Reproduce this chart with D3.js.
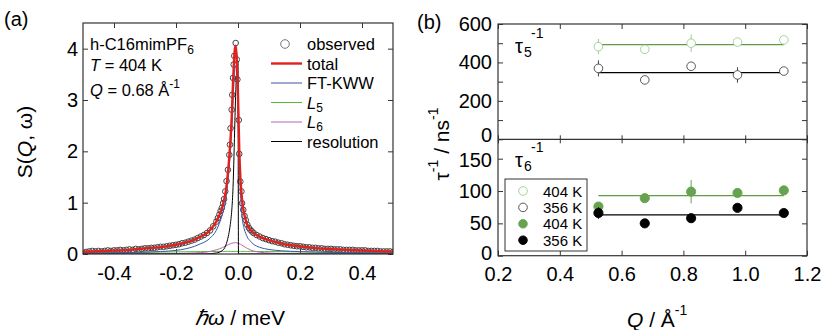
<!DOCTYPE html>
<html><head><meta charset="utf-8">
<script src="https://cdn.jsdelivr.net/npm/d3@7"></script>
<style>
html,body{margin:0;padding:0;background:#fff;}
svg{display:block;font-family:"Liberation Sans",Arial,Helvetica,sans-serif;}
</style></head><body>
<svg id="c" width="822" height="330"></svg>
<script>
// ---------- Panel (a) data ----------
const specE = [-0.5,-0.45,-0.4,-0.35,-0.3,-0.25,-0.2,-0.17,-0.14,-0.12,-0.1,-0.085,-0.07,-0.06,-0.05,-0.045,-0.04,-0.035,-0.03,-0.025,-0.02,-0.016,-0.013,-0.01,-0.007,-0.004,0,0.004,0.008,0.012,0.016,0.02,0.025,0.03,0.04,0.05,0.06,0.07,0.085,0.1,0.12,0.14,0.17,0.2,0.25,0.3,0.35,0.4,0.45,0.5];
const totalFit = [0.045,0.055,0.065,0.08,0.11,0.135,0.18,0.22,0.28,0.34,0.41,0.50,0.63,0.76,0.93,1.05,1.2,1.43,1.75,2.15,2.7,3.35,3.75,4.0,4.06,3.8,3.1,2.05,1.45,1.13,0.92,0.78,0.66,0.57,0.47,0.41,0.37,0.335,0.30,0.27,0.235,0.205,0.17,0.145,0.115,0.095,0.08,0.068,0.056,0.047];
const kwwFit = [0.02,0.022,0.025,0.03,0.036,0.048,0.07,0.1,0.15,0.2,0.26,0.34,0.46,0.6,0.78,0.9,1.05,1.27,1.57,1.97,2.47,2.98,3.38,3.63,3.66,3.42,2.8,1.9,1.2,0.8,0.6,0.49,0.4,0.33,0.25,0.19,0.155,0.13,0.105,0.088,0.073,0.063,0.053,0.046,0.038,0.032,0.028,0.025,0.022,0.02];
const l5Fit = [0.022,0.025,0.028,0.031,0.034,0.038,0.042,0.044,0.046,0.047,0.048,0.049,0.049,0.05,0.05,0.05,0.05,0.05,0.05,0.05,0.05,0.05,0.05,0.05,0.05,0.05,0.05,0.05,0.05,0.05,0.05,0.05,0.05,0.05,0.05,0.05,0.049,0.049,0.049,0.048,0.047,0.046,0.044,0.042,0.038,0.034,0.031,0.028,0.025,0.022];
const l6Fit = [0.002,0.002,0.003,0.003,0.004,0.006,0.009,0.013,0.02,0.027,0.04,0.058,0.08,0.1,0.125,0.14,0.155,0.17,0.185,0.198,0.21,0.215,0.218,0.22,0.22,0.218,0.21,0.2,0.19,0.175,0.16,0.145,0.125,0.11,0.08,0.058,0.045,0.035,0.025,0.018,0.013,0.01,0.007,0.005,0.004,0.003,0.002,0.002,0.002,0.001];
const resE = [-0.5,-0.15,-0.1,-0.085,-0.07,-0.06,-0.05,-0.045,-0.04,-0.035,-0.03,-0.025,-0.02,-0.016,-0.013,-0.01,-0.007,-0.004,0.0,0.0015,0.01,0.5];
const resFit = [0,0,0.003,0.008,0.02,0.035,0.07,0.1,0.16,0.25,0.38,0.57,0.86,1.3,1.9,2.6,3.2,3.55,3.75,0,0,0];
const obsE = [-0.50,-0.49,-0.48,-0.47,-0.46,-0.45,-0.44,-0.43,-0.42,-0.41,-0.40,-0.39,-0.38,-0.37,-0.36,-0.35,-0.34,-0.33,-0.32,-0.31,-0.30,-0.29,-0.28,-0.27,-0.26,-0.25,-0.24,-0.23,-0.22,-0.21,-0.20,-0.19,-0.18,-0.17,-0.16,-0.15,-0.14,-0.13,-0.12,-0.11,-0.10,-0.09,-0.08,-0.07,
  -0.065,-0.06,-0.056,-0.052,-0.048,-0.045,-0.041,-0.037,-0.0325,-0.028,-0.026,-0.024,-0.0205,-0.0185,-0.016,-0.014,-0.012,-0.0075,-0.004,-0.002,0.0025,0.004,0.0075,0.011,0.013,0.017,0.021,0.025,0.03,0.035,0.04,0.045,0.05,
  0.06,0.07,0.08,0.09,0.10,0.11,0.12,0.13,0.14,0.15,0.16,0.17,0.18,0.19,0.20,0.21,0.22,0.23,0.24,0.25,0.26,0.27,0.28,0.29,0.30,0.31,0.32,0.33,0.34,0.35,0.36,0.37,0.38,0.39,0.40,0.41,0.42,0.43,0.44,0.45,0.46,0.47,0.48,0.49,0.50];
const obsS = [0.02,0.04,0.05,0.06,0.05,0.06,0.05,0.06,0.07,0.06,0.07,0.07,0.08,0.07,0.08,0.09,0.08,0.10,0.09,0.10,0.11,0.11,0.12,0.12,0.13,0.14,0.14,0.15,0.16,0.17,0.18,0.19,0.21,0.22,0.24,0.26,0.28,0.31,0.34,0.37,0.41,0.46,0.54,0.63,
  0.70,0.77,0.84,0.90,0.99,1.07,1.22,1.42,1.64,1.93,2.13,2.45,2.81,3.10,3.43,3.69,3.86,4.11,3.79,3.40,2.61,1.95,1.41,1.22,0.99,0.86,0.74,0.66,0.57,0.51,0.47,0.44,0.41,
  0.37,0.34,0.31,0.29,0.27,0.25,0.24,0.22,0.21,0.19,0.18,0.17,0.16,0.15,0.15,0.14,0.13,0.13,0.12,0.12,0.11,0.11,0.10,0.10,0.10,0.09,0.09,0.09,0.08,0.08,0.08,0.08,0.07,0.07,0.07,0.07,0.06,0.06,0.06,0.06,0.05,0.05,0.05,0.05,0.04];
const aXTicks = [-0.4,-0.2,0,0.2,0.4];
const aYTicks = [0,1,2,3,4];

// ---------- Panel (b) data ----------
const qVals = [0.525,0.675,0.825,0.975,1.125];
const tau5_404 = [482,468,500,506,517];
const tau5_404err = [40,0,45,0,0];
const tau5_356 = [369,309,380,335,355];
const tau5_356err = [42,0,0,40,0];
const tau6_404 = [76,89,99,97,101];
const tau6_404err = [0,0,18,0,0];
const tau6_356 = [66,50,58,74,66];
const tau6_356err = [9,0,0,0,0];
const fit5 = {k404: 493, k356: 347};
const fit6 = {k404: 93, k356: 63};
const bXTicks = [0.2,0.4,0.6,0.8,1.0,1.2];
const b5Ticks = [0,100,200,300,400,500,600];
const b6Ticks = [0,50,100,150];
const legendB = ["404 K","356 K","404 K","356 K"];

// ---------- drawing ----------
const FONT = '"Liberation Sans",Arial,Helvetica,sans-serif';
const svg = d3.select("#c");
const GREEN_L = "#9ccd8c", GREEN = "#5e9c45", GREEN_F = "#66a34f";

function styleAxis(g, fs){
  g.select(".domain").remove();
  g.attr("font-size", null).attr("font-family", null);
  g.selectAll("text").attr("font-size", fs).attr("font-family", FONT).attr("fill", "#000");
  g.selectAll(".tick line").attr("stroke", "#333").attr("stroke-width", 1);
}

// Panel (a)
const xa = d3.scaleLinear([-0.5,0.5],[83,393]);
const ya = d3.scaleLinear([0,4.5],[254,23]);
svg.append("defs").append("clipPath").attr("id","clipA").append("rect")
  .attr("x",83).attr("y",23).attr("width",310).attr("height",231);

const gA = svg.append("g");
gA.append("g").attr("transform","translate(0,254)")
  .call(d3.axisBottom(xa).tickValues(aXTicks).tickSize(-5).tickPadding(12).tickFormat(d=>d.toFixed(1)))
  .call(g=>styleAxis(g,20));
gA.append("g").attr("transform","translate(0,23)")
  .call(d3.axisTop(xa).tickValues(aXTicks).tickSize(-5).tickFormat(()=>""))
  .call(g=>styleAxis(g,20));
gA.append("g").attr("transform","translate(83,0)")
  .call(d3.axisLeft(ya).tickValues(aYTicks).tickSize(-5).tickPadding(5).tickFormat(d3.format("d")))
  .call(g=>styleAxis(g,20));
gA.append("g").attr("transform","translate(393,0)")
  .call(d3.axisRight(ya).tickValues(aYTicks).tickSize(-5).tickFormat(()=>""))
  .call(g=>styleAxis(g,20));

const plotA = gA.append("g").attr("clip-path","url(#clipA)");
plotA.selectAll("circle.obs").data(obsE.map((e,i)=>[e,obsS[i]])).join("circle")
  .attr("class","obs").attr("cx",d=>xa(d[0])).attr("cy",d=>ya(d[1])).attr("r",2.8)
  .attr("fill","none").attr("stroke","#444").attr("stroke-width",1);
const lineA = d3.line().x(d=>xa(d[0])).y(d=>ya(d[1])).curve(d3.curveMonotoneX);
const zip = (xs, ys) => xs.map((x,i)=>[x,ys[i]]);
plotA.append("path").attr("d",lineA(zip(specE,l5Fit))).attr("fill","none").attr("stroke","#5cb83c").attr("stroke-width",1);
plotA.append("path").attr("d",lineA(zip(specE,l6Fit))).attr("fill","none").attr("stroke","#b565b5").attr("stroke-width",1);
plotA.append("path").attr("d",lineA(zip(resE,resFit))).attr("fill","none").attr("stroke","#000").attr("stroke-width",1);
plotA.append("path").attr("d",lineA(zip(specE,kwwFit))).attr("fill","none").attr("stroke","#3a55a5").attr("stroke-width",1);
plotA.append("path").attr("d",lineA(zip(specE,totalFit))).attr("fill","none").attr("stroke","#e0221e").attr("stroke-width",2.4);

gA.append("rect").attr("x",83).attr("y",23).attr("width",310).attr("height",231)
  .attr("fill","none").attr("stroke","#333").attr("stroke-width",1.2);

// annotations (a)
const ann = gA.append("g").attr("font-size",16.5).attr("fill","#000");
let t = ann.append("text").attr("x",90).attr("y",50);
t.append("tspan").text("h-C16mimPF");
t.append("tspan").attr("font-size",12).attr("dy",4).text("6");
t = ann.append("text").attr("x",90).attr("y",71);
t.append("tspan").attr("font-style","italic").text("T");
t.append("tspan").text(" = 404 K");
t = ann.append("text").attr("x",90).attr("y",96);
t.append("tspan").attr("font-style","italic").text("Q");
t.append("tspan").text(" = 0.68 Å");
t.append("tspan").attr("font-size",12).attr("dy",-8).text("-1");

// legend (a)
const legA = [
  {label:"observed", type:"circle"},
  {label:"total", color:"#e0221e", w:2.4},
  {label:"FT-KWW", color:"#3a55a5", w:1},
  {label:"L", sub:"5", color:"#5cb83c", w:1},
  {label:"L", sub:"6", color:"#b565b5", w:1},
  {label:"resolution", color:"#000", w:1}
];
legA.forEach((d,i)=>{
  const yb = 50 + i*19.5;
  if(d.type==="circle"){
    gA.append("circle").attr("cx",285).attr("cy",yb-6).attr("r",4.3).attr("fill","none").attr("stroke","#666").attr("stroke-width",0.9);
  } else {
    gA.append("line").attr("x1",271).attr("x2",302).attr("y1",yb-6).attr("y2",yb-6).attr("stroke",d.color).attr("stroke-width",d.w);
  }
  const tt = gA.append("text").attr("x",307).attr("y",yb).attr("font-size",16.5);
  if(d.sub){
    tt.append("tspan").attr("font-style","italic").text(d.label);
    tt.append("tspan").attr("font-size",12).attr("dy",3).text(d.sub);
  } else tt.text(d.label);
});

// labels (a)
svg.append("text").attr("x",4).attr("y",26).attr("font-size",20).text("(a)");
t = svg.append("text").attr("transform","translate(32,142) rotate(-90)").attr("text-anchor","middle").attr("font-size",21);
t.append("tspan").text("S(");
t.append("tspan").attr("font-style","italic").text("Q");
t.append("tspan").text(", ω)");
t = svg.append("text").attr("x",240).attr("y",325).attr("text-anchor","middle").attr("font-size",21);
t.append("tspan").attr("font-style","italic").text("ℏω");
t.append("tspan").text(" / meV");

// Panel (b)
const xb = d3.scaleLinear([0.2,1.2],[498,807]);
const y5 = d3.scaleLinear([0,600],[139.3,24]);
const y6 = d3.scaleLinear([0,180],[255.7,139.3]);
const gB = svg.append("g");
gB.append("g").attr("transform","translate(0,255.7)")
  .call(d3.axisBottom(xb).tickValues(bXTicks).tickSize(-5).tickPadding(11).tickFormat(d=>d.toFixed(1)))
  .call(g=>styleAxis(g,20));
gB.append("g").attr("transform","translate(0,139.3)")
  .call(d3.axisBottom(xb).tickValues(bXTicks).tickSize(4).tickFormat(()=>""))
  .call(g=>styleAxis(g,20));
gB.append("g").attr("transform","translate(0,139.3)")
  .call(d3.axisTop(xb).tickValues(bXTicks).tickSize(4).tickFormat(()=>""))
  .call(g=>styleAxis(g,20));
gB.append("g").attr("transform","translate(0,24)")
  .call(d3.axisTop(xb).tickValues(bXTicks).tickSize(-5).tickFormat(()=>""))
  .call(g=>styleAxis(g,20));
gB.append("g").attr("transform","translate(498,0)")
  .call(d3.axisLeft(y5).tickValues(b5Ticks).tickSize(-5).tickPadding(6).tickFormat(d=>d%200===0?d:""))
  .call(g=>styleAxis(g,20))
  .call(g=>g.selectAll(".tick").filter(d=>d===0).select("text").attr("dy","0.1em"));
gB.append("g").attr("transform","translate(807,0)")
  .call(d3.axisRight(y5).tickValues(b5Ticks).tickSize(-5).tickFormat(()=>""))
  .call(g=>styleAxis(g,20));
gB.append("g").attr("transform","translate(498,0)")
  .call(d3.axisLeft(y6).tickValues(b6Ticks).tickSize(-5).tickPadding(6).tickFormat(d3.format("d")))
  .call(g=>styleAxis(g,20))
  .call(g=>g.selectAll(".tick").filter(d=>d===150).select("text").attr("dy","0.4em"))
  .call(g=>g.selectAll(".tick").filter(d=>d===0).select("text").attr("dy","0.2em"));
gB.append("g").attr("transform","translate(807,0)")
  .call(d3.axisRight(y6).tickValues(b6Ticks).tickSize(-5).tickFormat(()=>""))
  .call(g=>styleAxis(g,20));

function series(g, ys, vals, errs, fitLevel, lineColor, stroke, fill, r){
  const l = d3.line().x(d=>xb(d[0])).y(d=>ys(d[1]));
  g.append("path").attr("d", l([[qVals[0],fitLevel],[qVals[qVals.length-1],fitLevel]]))
    .attr("fill","none").attr("stroke",lineColor).attr("stroke-width",1.2);
  qVals.forEach((q,i)=>{
    if(errs[i]>0) g.append("line").attr("x1",xb(q)).attr("x2",xb(q))
      .attr("y1",ys(vals[i]-errs[i])).attr("y2",ys(vals[i]+errs[i]))
      .attr("stroke",stroke).attr("stroke-width",1);
  });
  g.selectAll(null).data(qVals.map((q,i)=>[q,vals[i]])).join("circle")
    .attr("cx",d=>xb(d[0])).attr("cy",d=>ys(d[1])).attr("r",r)
    .attr("fill",fill).attr("stroke",stroke).attr("stroke-width",0.9);
}
series(gB, y5, tau5_404, tau5_404err, fit5.k404, GREEN, GREEN_L, "#fff", 4.3);
series(gB, y5, tau5_356, tau5_356err, fit5.k356, "#000", "#444", "#fff", 4.3);
series(gB, y6, tau6_404, tau6_404err, fit6.k404, GREEN, GREEN_F, GREEN_F, 4.6);
series(gB, y6, tau6_356, tau6_356err, fit6.k356, "#000", "#000", "#000", 4.6);

gB.append("rect").attr("x",498).attr("y",24).attr("width",309).attr("height",231.7)
  .attr("fill","none").attr("stroke","#333").attr("stroke-width",1.2);
gB.append("line").attr("x1",498).attr("x2",807).attr("y1",139.3).attr("y2",139.3)
  .attr("stroke","#333").attr("stroke-width",1.2);

// tau labels
function tauLabel(y, sub){
  gB.append("text").attr("x",515).attr("y",y).attr("font-size",20).text("τ");
  gB.append("text").attr("x",524).attr("y",y+4).attr("font-size",14).text(sub);
  gB.append("text").attr("x",531).attr("y",y-15).attr("font-size",14).text("-1");
}
tauLabel(53,"5");
tauLabel(167,"6");

// legend (b)
gB.append("rect").attr("x",505).attr("y",179).attr("width",82).attr("height",72)
  .attr("fill","#fff").attr("stroke","#333").attr("stroke-width",1);
const legStyles = [
  {stroke:GREEN_L, fill:"#fff"},
  {stroke:"#444", fill:"#fff"},
  {stroke:GREEN_F, fill:GREEN_F},
  {stroke:"#000", fill:"#000"}
];
legendB.forEach((lab,i)=>{
  const cy = 191 + i*16.4;
  gB.append("circle").attr("cx",523).attr("cy",cy).attr("r",4.3)
    .attr("fill",legStyles[i].fill).attr("stroke",legStyles[i].stroke).attr("stroke-width",0.9);
  gB.append("text").attr("x",543).attr("y",cy+5.5).attr("font-size",15).text(lab);
});

// labels (b)
svg.append("text").attr("x",417).attr("y",29).attr("font-size",20).text("(b)");
t = svg.append("text").attr("transform","translate(449,144) rotate(-90)").attr("text-anchor","middle").attr("font-size",21);
t.append("tspan").text("τ");
t.append("tspan").attr("font-size",14).attr("dy",-11).text("-1");
t.append("tspan").attr("dy",11).text(" / ns");
t.append("tspan").attr("font-size",14).attr("dy",-11).text("-1");
t = svg.append("text").attr("x",627).attr("y",327).attr("font-size",21);
t.append("tspan").attr("font-style","italic").text("Q");
t.append("tspan").text(" / Å");
t.append("tspan").attr("font-size",14).attr("dy",-12).text("-1");
</script>
</body></html>
